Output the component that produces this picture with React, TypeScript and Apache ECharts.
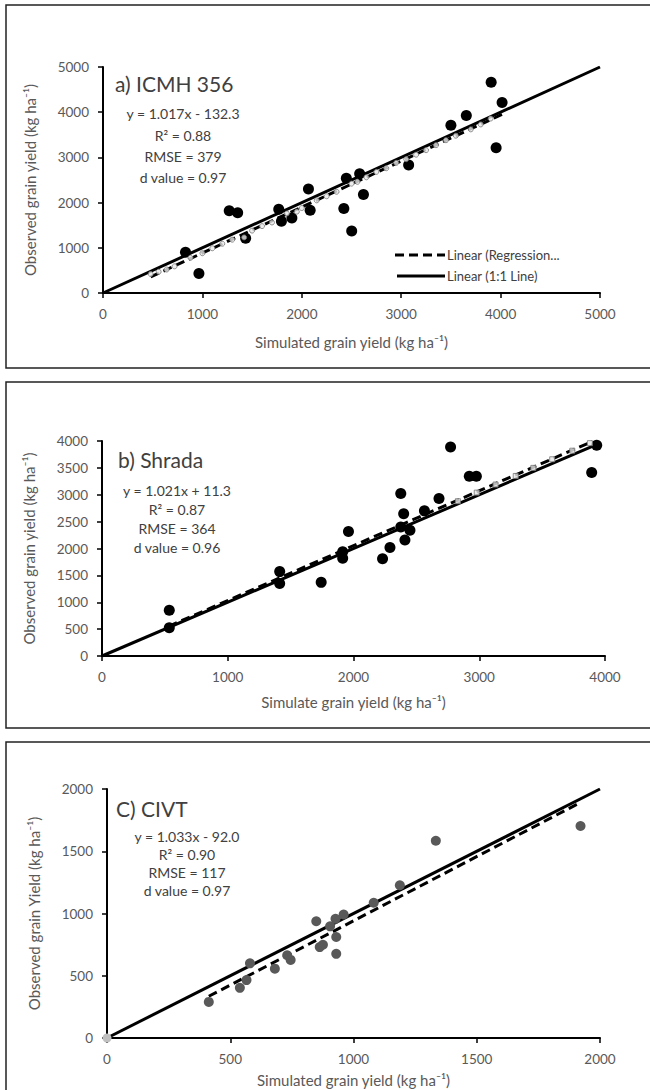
import React, { useEffect, useRef } from "react";
import * as echarts from "echarts";

// ---------- Data ----------
const panelAObserved: number[][] = [
  [965, 430], [830, 900], [1270, 1820], [1355, 1775], [1768, 1855], [1795, 1590],
  [1900, 1660], [2067, 2300], [2084, 1830], [2423, 1870], [2448, 2540], [2502, 1370],
  [2582, 2640], [2620, 2180], [3075, 2830], [3500, 3710], [3655, 3925], [3905, 4665],
  [4015, 4215], [3955, 3215], [1435, 1210],
];
const panelATrendMarks: number[][] = [
  [480, 420], [560, 470], [640, 520], [720, 590], [880, 780], [1000, 880], [1100, 990],
  [1200, 1090], [1300, 1180], [1420, 1230], [1500, 1380], [1600, 1480], [1700, 1560],
  [1850, 1760], [1950, 1800], [2000, 1880], [2150, 2050], [2250, 2140], [2350, 2240],
  [2500, 2420], [2560, 2460], [2650, 2560], [2750, 2680], [2850, 2760], [2950, 2880],
  [3050, 2960], [3150, 3060], [3250, 3160], [3350, 3270], [3450, 3380], [3550, 3480],
  [3700, 3620], [3800, 3730], [3900, 3860],
];
const panelARegression: number[][] = [[480, 356], [4030, 3966]];
const panelAOneToOne: number[][] = [[0, 0], [5000, 5000]];

const panelBObserved: number[][] = [
  [535, 850], [535, 525], [1413, 1570], [1413, 1350], [1743, 1370], [1914, 1940],
  [1914, 1820], [1960, 2315], [2231, 1810], [2290, 2020], [2376, 3025], [2399, 2645],
  [2376, 2400], [2409, 2160], [2449, 2340], [2564, 2700], [2680, 2930], [2772, 3890],
  [2921, 3345], [2977, 3345], [3894, 3415], [3934, 3920],
];
const panelBTrendMarks: number[][] = [
  [2830, 2880], [2980, 3040], [3130, 3190], [3290, 3350], [3430, 3500],
  [3580, 3660], [3740, 3820], [3880, 3960],
];
const panelBRegression: number[][] = [[530, 552], [3900, 3993]];
const panelBOneToOne: number[][] = [[0, 0], [3950, 3950]];

const panelCObserved: number[][] = [
  [413, 290], [539, 403], [566, 465], [580, 600], [681, 557], [745, 627], [731, 665],
  [849, 938], [863, 730], [876, 749], [930, 676], [930, 811], [927, 957], [960, 992],
  [905, 897], [1082, 1086], [1188, 1227], [1334, 1584], [1921, 1703],
];
const panelCOrigin: number[][] = [[0, 0]];
const panelCRegression: number[][] = [[413, 335], [1921, 1892]];
const panelCOneToOne: number[][] = [[0, 0], [2000, 2000]];

const titles = ["a) ICMH 356", "b) Shrada", "C) CIVT"];
const statsA = ["y = 1.017x - 132.3", "R² = 0.88", "RMSE = 379", "d value = 0.97"];
const statsB = ["y = 1.021x + 11.3", "R² = 0.87", "RMSE = 364", "d value = 0.96"];
const statsC = ["y = 1.033x - 92.0", "R² = 0.90", "RMSE = 117", "d value = 0.97"];
const xNames = [
  "Simulated grain yield (kg ha⁻¹)",
  "Simulate grain yield (kg ha⁻¹)",
  "Simulated grain yield (kg ha⁻¹)",
];
const yNames = [
  "Observed grain yield (kg ha⁻¹)",
  "Observed grain yield (kg ha⁻¹)",
  "Observed grain Yield (kg ha⁻¹)",
];
const legendLabels = ["Linear (Regression...", "Linear (1:1 Line)"];

const FONT = "Lato, 'Open Sans', 'DejaVu Sans', sans-serif";
const GRAY = "#595959";
const DARK = "#404040";

function makeAxis(gridIndex: number, max: number, interval: number, name: string, nameGap: number) {
  return {
    type: "value",
    gridIndex,
    min: 0,
    max,
    interval,
    name,
    nameLocation: "middle",
    nameGap,
    nameTextStyle: { fontFamily: FONT, fontSize: 15, color: GRAY },
    axisLine: { show: true, onZero: false, lineStyle: { color: "#000", width: 2 } },
    axisTick: { show: true, length: 5, inside: false, lineStyle: { color: "#000", width: 1.5 } },
    axisLabel: {
      fontFamily: FONT,
      fontSize: 13.5,
      color: GRAY,
      margin: 14,
      formatter: (v: number) => String(v),
    },
    splitLine: { show: false },
  };
}

function lineSeries(idx: number, data: number[][], dashed: boolean, width = 3) {
  return {
    type: "line",
    xAxisIndex: idx,
    yAxisIndex: idx,
    data,
    symbol: "none",
    silent: true,
    lineStyle: { color: "#000", width, type: dashed ? [9, 5] : "solid" },
    z: 3,
  };
}

function dotSeries(idx: number, data: number[][], color: string, size: number, z = 4) {
  return {
    type: "scatter",
    xAxisIndex: idx,
    yAxisIndex: idx,
    data,
    symbol: "circle",
    symbolSize: size,
    itemStyle: { color, opacity: 1 },
    z,
  };
}

function markSeries(idx: number, data: number[][], symbol: string) {
  return {
    type: "scatter",
    xAxisIndex: idx,
    yAxisIndex: idx,
    data,
    symbol,
    symbolSize: 5,
    itemStyle: { color: "#e8e8e8", borderColor: "#777", borderWidth: 1 },
    z: 5,
  };
}

function statTexts(lines: string[], cx: number, ys: number[]) {
  return lines.map((t, i) => ({
    type: "text",
    x: cx,
    y: ys[i],
    style: {
      text: t,
      fontFamily: FONT,
      fontSize: 14,
      fill: DARK,
      textAlign: "center",
      textVerticalAlign: "middle",
    },
  }));
}

function titleText(t: string, x: number, y: number) {
  return {
    type: "text",
    x,
    y,
    style: { text: t, fontFamily: FONT, fontSize: 21, fill: DARK, textAlign: "left", textVerticalAlign: "middle" },
  };
}

function frame(y1: number, y2: number) {
  return {
    type: "rect",
    shape: { x: 6, y: y1, width: 700, height: y2 - y1 },
    style: { fill: "none", stroke: "#222", lineWidth: 1.5 },
    z: 0,
  };
}

export default function App() {
  const ref = useRef<HTMLDivElement>(null);
  useEffect(() => {
    if (!ref.current) return;
    const chart = echarts.init(ref.current, null, { renderer: "svg" });
    const option: any = {
      animation: false,
      backgroundColor: "#ffffff",
      grid: [
        { left: 103, top: 67, width: 497, height: 226 },
        { left: 102, top: 441, width: 503, height: 215 },
        { left: 107, top: 789, width: 493, height: 249 },
      ],
      xAxis: [
        makeAxis(0, 5000, 1000, xNames[0], 41),
        makeAxis(1, 4000, 1000, xNames[1], 38),
        makeAxis(2, 2000, 500, xNames[2], 34),
      ],
      yAxis: [
        makeAxis(0, 5000, 1000, yNames[0], 66),
        makeAxis(1, 4000, 500, yNames[1], 66),
        makeAxis(2, 2000, 500, yNames[2], 66),
      ],
      series: [
        lineSeries(0, panelAOneToOne, false),
        lineSeries(0, panelARegression, true),
        markSeries(0, panelATrendMarks, "circle"),
        dotSeries(0, panelAObserved, "#000000", 11),
        lineSeries(1, panelBOneToOne, false),
        lineSeries(1, panelBRegression, true),
        markSeries(1, panelBTrendMarks, "rect"),
        dotSeries(1, panelBObserved, "#000000", 11),
        lineSeries(2, panelCOneToOne, false),
        lineSeries(2, panelCRegression, true),
        dotSeries(2, panelCObserved, "#595959", 10),
        dotSeries(2, panelCOrigin, "#bfbfbf", 9),
      ],
      graphic: [
        frame(5, 368),
        frame(382, 728),
        frame(742, 1100),
        titleText(titles[0], 115, 83),
        titleText(titles[1], 118, 459),
        titleText(titles[2], 116, 808),
        ...statTexts(statsA, 183, [113, 135, 156, 177]),
        ...statTexts(statsB, 177, [490, 509, 528, 547]),
        ...statTexts(statsC, 187, [836, 854, 872, 890]),
        {
          type: "line",
          shape: { x1: 395, y1: 255, x2: 445, y2: 255 },
          style: { stroke: "#000", lineWidth: 3, lineDash: [9, 5] },
        },
        {
          type: "line",
          shape: { x1: 397, y1: 276, x2: 445, y2: 276 },
          style: { stroke: "#000", lineWidth: 3 },
        },
        {
          type: "text",
          x: 447,
          y: 255,
          style: { text: legendLabels[0], fontFamily: FONT, fontSize: 13, fill: DARK, textAlign: "left", textVerticalAlign: "middle" },
        },
        {
          type: "text",
          x: 447,
          y: 276,
          style: { text: legendLabels[1], fontFamily: FONT, fontSize: 13, fill: DARK, textAlign: "left", textVerticalAlign: "middle" },
        },
      ],
    };
    chart.setOption(option);
    return () => chart.dispose();
  }, []);
  return (
    <div
      ref={ref}
      style={{ position: "fixed", left: 0, top: 0, width: 650, height: 1090, background: "#fff" }}
    />
  );
}
